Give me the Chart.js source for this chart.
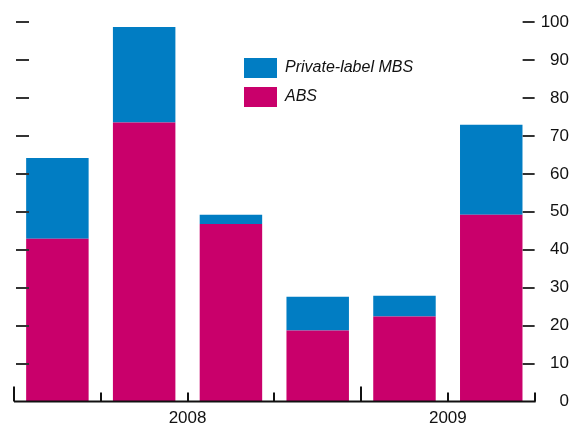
<!DOCTYPE html>
<html>
<head>
<meta charset="utf-8">
<script src="https://cdn.jsdelivr.net/npm/chart.js@4.4.7/dist/chart.umd.min.js"></script>
<style>
  html, body { margin: 0; padding: 0; background: #fff; }
  #wrap { width: 575px; height: 427px; position: relative; }
</style>
</head>
<body>
<div id="wrap"><canvas id="chart"></canvas></div>
<script>
const quarters = ['2008 Q1', '2008 Q2', '2008 Q3', '2008 Q4', '2009 Q1', '2009 Q2'];
const absValues = [42.9, 73.5, 46.8, 18.7, 22.4, 49.2];
const mbsValues = [21.3, 25.2, 2.4, 8.9, 5.5, 23.7];
const yearLabels = ['2008', '2009'];
const yearCenters = [1.5, 4.5];
const yearBoundaries = [-0.5, 3.5];
const yTicks = [0, 10, 20, 30, 40, 50, 60, 70, 80, 90, 100];

const FONT = '"Liberation Sans Narrow", "Liberation Sans", Arial, sans-serif';
const BLUE = '#017DC3';
const PINK = '#C9006B';

// inward tick marks, category boundary ticks and the legend
const decor = {
  id: 'decor',
  afterDraw(chart) {
    const ctx = chart.ctx;
    const area = chart.chartArea;
    const x = chart.scales.x;
    const y = chart.scales.y;
    const base = y.getPixelForValue(0);
    ctx.save();
    ctx.strokeStyle = '#333';
    ctx.lineWidth = 2;
    yTicks.forEach(v => {
      if (v === 0) return;
      const py = Math.round(y.getPixelForValue(v));
      ctx.beginPath();
      ctx.moveTo(area.left + 2, py);
      ctx.lineTo(area.left + 15, py);
      ctx.moveTo(area.right - 12, py);
      ctx.lineTo(area.right, py);
      ctx.stroke();
    });
    ctx.strokeStyle = '#111';
    ctx.beginPath();
    ctx.moveTo(area.left, base);
    ctx.lineTo(area.right + 1, base);
    ctx.stroke();
    const step = x.getPixelForValue(1) - x.getPixelForValue(0);
    for (let i = 0; i <= quarters.length; i++) {
      const px = Math.round(x.getPixelForValue(0) - step / 2 + i * step);
      const tall = yearBoundaries.includes(i - 0.5);
      ctx.beginPath();
      ctx.moveTo(px, base);
      ctx.lineTo(px, base - (tall ? 15 : 9));
      ctx.stroke();
    }
    // legend
    const items = [chart.data.datasets[1], chart.data.datasets[0]];
    ctx.font = 'italic 16px ' + FONT;
    ctx.textBaseline = 'middle';
    items.forEach((ds, i) => {
      const top = 58 + i * 29;
      ctx.fillStyle = ds.backgroundColor;
      ctx.fillRect(244, top, 33, 20);
      ctx.fillStyle = '#111';
      ctx.fillText(ds.label, 285, top + 10);
    });
    ctx.restore();
  }
};

new Chart(document.getElementById('chart'), {
  type: 'bar',
  data: {
    labels: quarters,
    datasets: [
      { label: 'ABS', data: absValues, backgroundColor: PINK, stack: 's' },
      { label: 'Private-label MBS', data: mbsValues, backgroundColor: BLUE, stack: 's' }
    ]
  },
  options: {
    responsive: true,
    maintainAspectRatio: false,
    animation: false,
    layout: { padding: { left: 14, right: 6, top: 22, bottom: -9 } },
    datasets: { bar: { categoryPercentage: 0.72, barPercentage: 1 } },
    plugins: { legend: { display: false }, tooltip: { enabled: false } },
    scales: {
      x: {
        stacked: true,
        display: false
      },
      year: {
        type: 'linear',
        position: 'bottom',
        offset: false,
        min: -0.5,
        max: 5.5,
        afterBuildTicks: scale => { scale.ticks = yearCenters.map(v => ({ value: v })); },
        grid: { display: false, drawTicks: false },
        border: { display: false },
        ticks: {
          padding: 7,
          color: '#111',
          maxRotation: 0,
          font: { family: FONT, size: 17 },
          callback: (v) => yearLabels[yearCenters.indexOf(v)]
        }
      },
      y: {
        stacked: true,
        position: 'right',
        min: 0,
        max: 100,
        afterBuildTicks: scale => { scale.ticks = yTicks.map(v => ({ value: v })); },
        grid: { display: false, drawTicks: false },
        border: { display: false },
        ticks: {
          padding: 3,
          crossAlign: 'far',
          color: '#111',
          font: { family: FONT, size: 17 }
        }
      }
    }
  },
  plugins: [decor]
});
</script>
</body>
</html>
